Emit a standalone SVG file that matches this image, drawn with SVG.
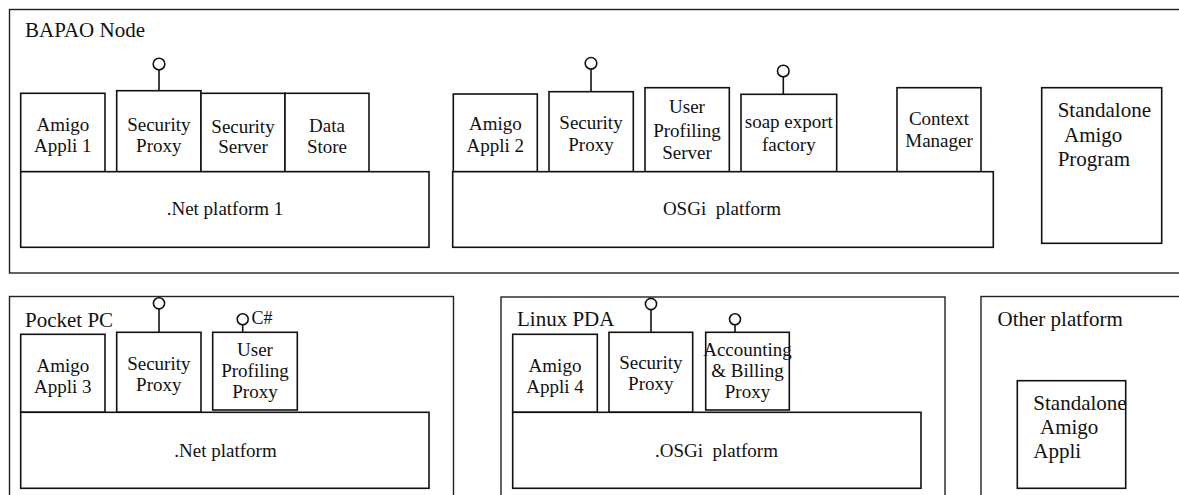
<svg xmlns="http://www.w3.org/2000/svg" width="1179" height="495" viewBox="0 0 1179 495">
<style>
.frame{fill:#fff;stroke:#222;stroke-width:1.4}
.box{fill:#fff;stroke:#111;stroke-width:1.6}
.lbl{font-family:"Liberation Serif","Times New Roman",serif;font-size:21px;fill:#111}
.t{font-family:"Liberation Serif","Times New Roman",serif;font-size:19px;fill:#111;text-anchor:middle}
.sa{font-family:"Liberation Serif","Times New Roman",serif;font-size:21px;fill:#111}
.stem{stroke:#111;stroke-width:1.6;fill:none}
.ball{fill:#fff;stroke:#111;stroke-width:1.6}
</style>
<rect width="1179" height="495" fill="#fff"/>

<!-- Frames -->
<g id="bapao-node">
<rect class="frame" x="9.5" y="9.5" width="1180" height="263.5"/>
<text class="lbl" x="25" y="37">BAPAO Node</text>
</g>
<g id="pocket-pc">
<rect class="frame" x="9.5" y="296.5" width="444" height="220"/>
<text class="lbl" x="25" y="326.5">Pocket PC</text>
</g>
<g id="linux-pda">
<rect class="frame" x="501" y="297" width="444" height="220"/>
<text class="lbl" x="517" y="326">Linux PDA</text>
</g>
<g id="other-platform">
<rect class="frame" x="981" y="296.5" width="220" height="220"/>
<text class="lbl" x="997.5" y="326">Other platform</text>
</g>

<!-- Top row, .Net platform 1 -->
<g id="amigo-appli-1">
<rect class="box" x="20.7" y="93.3" width="84.3" height="78.4"/>
<text class="t" x="62.8" y="130.7">Amigo</text>
<text class="t" x="62.8" y="151.7">Appli 1</text>
</g>
<g id="security-proxy-1">
<rect class="box" x="116.7" y="90.7" width="84.3" height="81"/>
<text class="t" x="158.8" y="130.7">Security</text>
<text class="t" x="158.8" y="151.7">Proxy</text>
</g>
<g id="security-server">
<rect class="box" x="201" y="93.3" width="84" height="78.4"/>
<text class="t" x="243" y="132.5">Security</text>
<text class="t" x="243" y="153.3">Server</text>
</g>
<g id="data-store">
<rect class="box" x="285" y="93.3" width="84" height="78.4"/>
<text class="t" x="327" y="131.7">Data</text>
<text class="t" x="327" y="153.3">Store</text>
</g>
<g id="net-platform-1">
<rect class="box" x="20.7" y="171.7" width="408.3" height="75.6"/>
<text class="t" x="225" y="215">.Net platform 1</text>
</g>

<!-- Top row, OSGi platform -->
<g id="amigo-appli-2">
<rect class="box" x="453.3" y="94" width="84" height="77.7"/>
<text class="t" x="495.3" y="130">Amigo</text>
<text class="t" x="495.3" y="151.7">Appli 2</text>
</g>
<g id="security-proxy-2">
<rect class="box" x="549" y="91.7" width="84.3" height="80"/>
<text class="t" x="591" y="129.3">Security</text>
<text class="t" x="591" y="150.7">Proxy</text>
</g>
<g id="user-profiling-server">
<rect class="box" x="645" y="87.7" width="84.3" height="84"/>
<text class="t" x="687" y="113.3">User</text>
<text class="t" x="687" y="137">Profiling</text>
<text class="t" x="687" y="159.3">Server</text>
</g>
<g id="soap-export-factory">
<rect class="box" x="741" y="94.3" width="95.7" height="77.4"/>
<text class="t" x="788.8" y="128.3">soap export</text>
<text class="t" x="788.8" y="150.7">factory</text>
</g>
<g id="context-manager">
<rect class="box" x="897" y="87.7" width="84" height="84"/>
<text class="t" x="939" y="125">Context</text>
<text class="t" x="939" y="146.7">Manager</text>
</g>
<g id="osgi-platform">
<rect class="box" x="452.7" y="171.7" width="540.6" height="75.6"/>
<text class="t" x="722" y="215" xml:space="preserve">OSGi  platform</text>
</g>
<g id="standalone-amigo-program">
<rect class="box" x="1041.7" y="87.7" width="120" height="155.6"/>
<text class="sa" x="1057.7" y="116.7">Standalone</text>
<text class="sa" x="1064" y="141.7">Amigo</text>
<text class="sa" x="1057.7" y="166">Program</text>
</g>

<!-- Pocket PC -->
<g id="amigo-appli-3">
<rect class="box" x="20.7" y="334.3" width="84.3" height="78"/>
<text class="t" x="62.8" y="371.7">Amigo</text>
<text class="t" x="62.8" y="392.7">Appli 3</text>
</g>
<g id="security-proxy-3">
<rect class="box" x="116.7" y="332.3" width="84.3" height="80"/>
<text class="t" x="158.8" y="370">Security</text>
<text class="t" x="158.8" y="391">Proxy</text>
</g>
<g id="user-profiling-proxy">
<rect class="box" x="212.7" y="332.3" width="84.6" height="77.7"/>
<text class="t" x="255" y="356">User</text>
<text class="t" x="255" y="376.7">Profiling</text>
<text class="t" x="255" y="398.3">Proxy</text>
</g>
<g id="net-platform">
<rect class="box" x="20.7" y="412.3" width="408.3" height="76"/>
<text class="t" x="225.5" y="456.7">.Net platform</text>
</g>

<!-- Linux PDA -->
<g id="amigo-appli-4">
<rect class="box" x="512.7" y="334.3" width="84.6" height="78"/>
<text class="t" x="555" y="371.7">Amigo</text>
<text class="t" x="555" y="392.7">Appli 4</text>
</g>
<g id="security-proxy-4">
<rect class="box" x="609" y="332.3" width="83.7" height="80"/>
<text class="t" x="650.8" y="369.3">Security</text>
<text class="t" x="650.8" y="390">Proxy</text>
</g>
<g id="accounting-billing-proxy">
<rect class="box" x="705.7" y="332.3" width="83.6" height="77.7"/>
<text class="t" x="747.5" y="356">Accounting</text>
<text class="t" x="747.5" y="376.7">&amp; Billing</text>
<text class="t" x="747.5" y="398.3">Proxy</text>
</g>
<g id="osgi-platform-pda">
<rect class="box" x="512.7" y="412.3" width="408.3" height="76"/>
<text class="t" x="716.5" y="456.7" xml:space="preserve">.OSGi  platform</text>
</g>

<!-- Other platform -->
<g id="standalone-amigo-appli">
<rect class="box" x="1017.3" y="380.7" width="108.4" height="107.6"/>
<text class="sa" x="1033.3" y="410">Standalone</text>
<text class="sa" x="1040" y="434">Amigo</text>
<text class="sa" x="1033.3" y="458.3">Appli</text>
</g>

<!-- Connectors: provided-interface lollipops -->
<g id="connectors">
<line class="stem" x1="159" y1="70" x2="159" y2="90.7"/>
<circle class="ball" cx="159" cy="64" r="5.8"/>
<line class="stem" x1="591" y1="69.3" x2="591" y2="91.7"/>
<circle class="ball" cx="591" cy="63.3" r="5.8"/>
<line class="stem" x1="783.3" y1="77" x2="783.3" y2="94.3"/>
<circle class="ball" cx="783.3" cy="71" r="5.8"/>
<line class="stem" x1="159" y1="309" x2="159" y2="332.3"/>
<circle class="ball" cx="159" cy="303.3" r="5.6"/>
<line class="stem" x1="242.7" y1="324.8" x2="242.7" y2="332.3"/>
<circle class="ball" cx="242.7" cy="319.3" r="5.5"/>
<line class="stem" x1="651" y1="309.5" x2="651" y2="332.3"/>
<circle class="ball" cx="651" cy="304" r="5.6"/>
<line class="stem" x1="735" y1="324.8" x2="735" y2="332.3"/>
<circle class="ball" cx="735" cy="319.3" r="5.5"/>
<text x="251.5" y="323.5" font-family="Liberation Serif, Times New Roman, serif" font-size="18" fill="#111">C#</text>
</g>
</svg>
